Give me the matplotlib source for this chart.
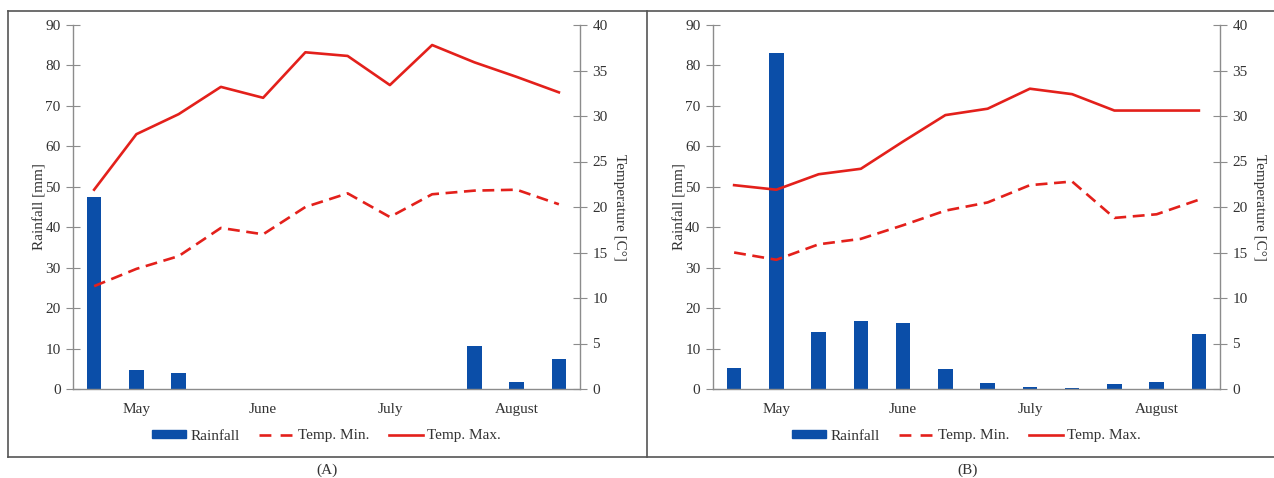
import matplotlib.pyplot as plt
from matplotlib.lines import Line2D
import numpy as np

plt.rcParams['font.family'] = ['Liberation Serif', 'DejaVu Serif']
plt.rcParams['font.size'] = 11

# weekly values, 3 per month
months = ['May', 'June', 'July', 'August']

rain_a = [47.4, 4.7, 3.9, 0, 0, 0, 0, 0, 0, 10.7, 1.65, 7.4]
tmin_a = [11.3, 13.2, 14.6, 17.7, 17.0, 20.0, 21.5, 18.9, 21.4, 21.8, 21.9, 20.3]
tmax_a = [21.9, 28.0, 30.2, 33.2, 32.0, 37.0, 36.6, 33.4, 37.8, 35.9, 34.3, 32.6]

rain_b = [5.2, 83.0, 14.0, 16.8, 16.3, 4.9, 1.4, 0.4, 0.35, 1.15, 1.65, 13.6]
tmin_b = [15.0, 14.2, 15.9, 16.5, 18.0, 19.6, 20.5, 22.4, 22.8, 18.8, 19.2, 20.8]
tmax_b = [22.4, 21.9, 23.6, 24.2, 27.2, 30.1, 30.8, 33.0, 32.4, 30.6, 30.6, 30.6]

BLUE = '#0b4ea8'
RED = '#e3201b'
GREY = '#8c8c8c'
TXT = '#333333'

W, H = 1274, 478
fig = plt.figure(figsize=(W / 100, H / 100), dpi=100)


def panel(left_px, rain, tmin, tmax, caption, cap_x):
    ax = fig.add_axes([left_px / W, (H - 389) / H, 507 / W, 364 / H])
    x = np.arange(len(rain))
    ax.bar(x, rain, width=0.34, color=BLUE, zorder=2)
    ax.set_xlim(-0.5, len(rain) - 0.5)
    ax.set_ylim(0, 90)
    ax.set_yticks(range(0, 91, 10))
    ax.set_xticks([1, 4, 7, 10])
    ax.set_xticklabels(months)
    ax.set_ylabel('Rainfall [mm]', color=TXT, labelpad=-1)

    ax2 = ax.twinx()
    ax2.plot(x, tmin, color=RED, lw=1.9, dashes=(4.5, 2.5))
    ax2.plot(x, tmax, color=RED, lw=1.9)
    ax2.set_ylim(0, 40)
    ax2.set_yticks(range(0, 41, 5))
    ax2.set_ylabel('Temperature [C°]', rotation=270, color=TXT, labelpad=13)

    for a in (ax, ax2):
        for s in a.spines.values():
            s.set_visible(False)
        a.tick_params(colors=TXT, labelsize=11)
    ax.spines['left'].set_visible(True)
    ax.spines['bottom'].set_visible(True)
    ax2.spines['right'].set_visible(True)
    for s in (ax.spines['left'], ax.spines['bottom'], ax2.spines['right']):
        s.set_color(GREY)
        s.set_linewidth(1.0)
    ax.tick_params(axis='y', direction='inout', length=10, color=GREY, pad=4)
    ax.tick_params(axis='x', length=0, pad=10)
    ax2.tick_params(axis='y', direction='inout', length=10, color=GREY, pad=4)

    handles = [plt.Rectangle((0, 0), 1, 1, color=BLUE),
               Line2D([], [], color=RED, lw=1.9, dashes=(4.5, 3.5)),
               Line2D([], [], color=RED, lw=1.9)]
    ax.legend(handles, ['Rainfall', 'Temp. Min.', 'Temp. Max.'],
              loc='center', bbox_to_anchor=(0.5, -47 / 364), ncol=3,
              frameon=False, handlelength=2.2, handleheight=0.5,
              columnspacing=1.3, handletextpad=0.3, labelcolor=TXT)

    fig.text(cap_x / W, 1 - 470 / H, caption, ha='center', va='center',
             color=TXT, fontsize=11)


panel(73, rain_a, tmin_a, tmax_a, '(A)', 327)
panel(713, rain_b, tmin_b, tmax_b, '(B)', 968)

# panel frames
fc = '#555555'
for xs, ys in [([8, 1274], [11, 11]), ([8, 1274], [457, 457]),
               ([8, 8], [11, 457]), ([647, 647], [11, 457])]:
    fig.add_artist(Line2D([v / W for v in xs], [1 - v / H for v in ys],
                          color=fc, lw=1.2))

fig.savefig('out.png', dpi=100)
